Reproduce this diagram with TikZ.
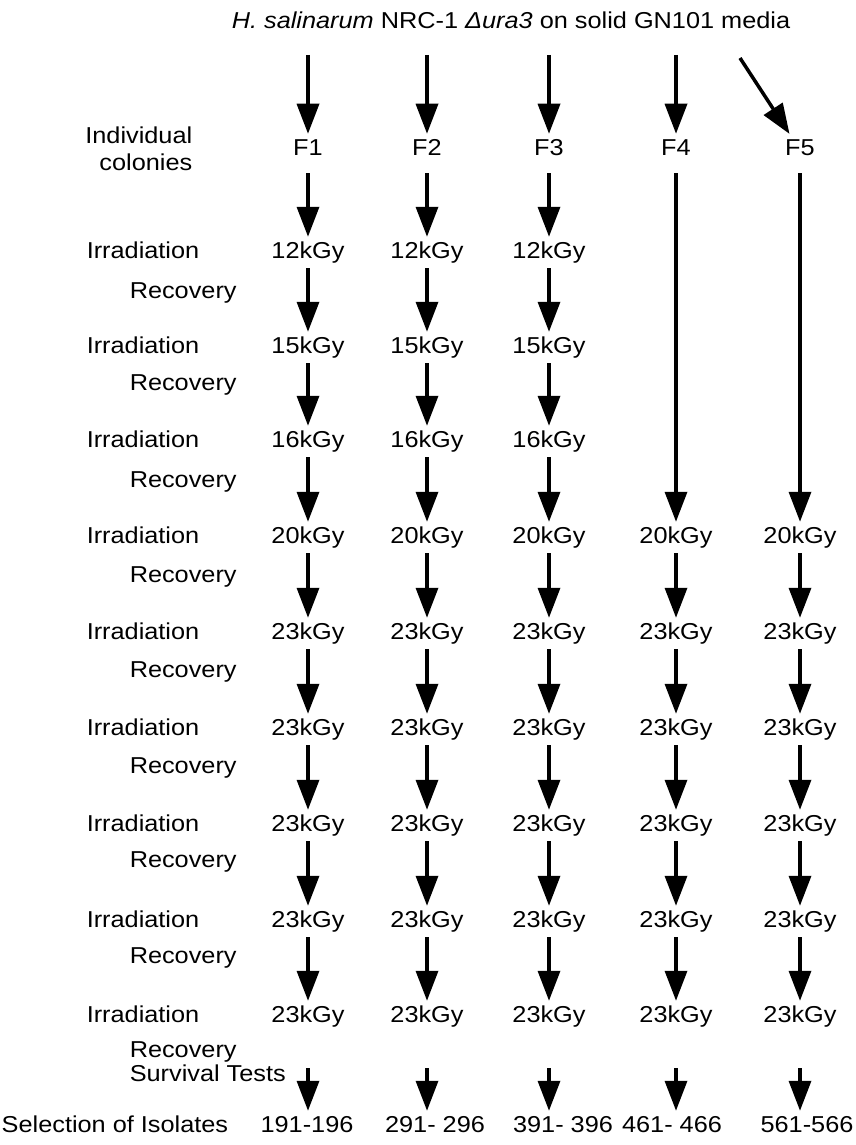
\documentclass[tikz,border=0pt]{standalone}
\usepackage{fontspec}
\setmainfont[FakeStretch=1.1]{Liberation Sans}
\usetikzlibrary{arrows.meta,positioning}

\begin{document}
\begin{tikzpicture}[x=1pt, y=-1pt, >={Triangle[length=30pt,width=22pt]}, line width=3.5pt, font=\fontsize{23}{27}\selectfont]
   \tikzstyle{dose}=[inner sep=3pt, text height=16pt, text depth=5pt]
   \tikzstyle{lbl}=[dose, inner sep=0pt, anchor=west]
   \tikzstyle{flow}=[->, shorten >=1pt]

   \useasboundingbox (0,0) rectangle (855,1145);

   \node (title) at (511,20) {\textit{H. salinarum} NRC-1 \textit{Δura3} on solid GN101 media};

   % founder colonies
   \foreach \c/\x in {1/308,2/427,3/549,4/676,5/800} {
      \node[dose] (f\c) at (\x,150) {F\c};
      \coordinate (s\c) at (\x,55);
   }
   \coordinate (s5) at (740,58);
   \node[align=right, inner sep=0pt, anchor=east] (indiv) at (194,149) {Individual\\colonies};

   % irradiation rounds
   \foreach \r/\y/\g in {1/253/12,2/348/15,3/442/16,4/538/20,5/634/23,6/730/23,7/826/23,8/922/23,9/1017/23} {
      \node[lbl] (irr\r) at (85,\y) {Irradiation};
      \foreach \c/\x in {1/308,2/427,3/549,4/676,5/800} {
         \ifnum\r>3
            \node[dose] (d\c r\r) at (\x,\y) {\g kGy};
         \else\ifnum\c<4
            \node[dose] (d\c r\r) at (\x,\y) {\g kGy};
         \fi\fi
      }
   }
   \foreach \r/\y in {1/293,2/385,3/482,4/577,5/672,6/768,7/862,8/958,9/1052}
      \node[lbl] (rec\r) at (128,\y) {Recovery};
   \node[lbl] (surv) at (128,1076) {Survival Tests};

   % isolates
   \node[lbl] (select) at (0,1127) {Selection of Isolates};
   \foreach \c/\x/\t in {1/307/191-196,2/435/291- 296,3/563/391- 396,4/672/461- 466,5/807/561-566}
      \node[dose] (sel\c) at (\x,1127) {\t};

   \foreach \c in {1,...,5}
      \draw[flow] (s\c) -- (f\c);
   \foreach \c in {1,2,3} {
      \draw[flow, shorten <=8pt] (f\c) -- (d\c r1);
      \foreach \r [evaluate=\r as \n using int(\r+1)] in {1,...,8}
         \draw[flow] (d\c r\r) -- (d\c r\n);
   }
   \foreach \c in {4,5} {
      \draw[flow, shorten <=8pt] (f\c) -- (d\c r4);
      \foreach \r [evaluate=\r as \n using int(\r+1)] in {4,...,8}
         \draw[flow] (d\c r\r) -- (d\c r\n);
   }
   \foreach \c in {1,...,5}
      \draw[flow, shorten <=36pt] (d\c r9) -- (d\c r9 |- sel\c.north);
\end{tikzpicture}
\end{document}
